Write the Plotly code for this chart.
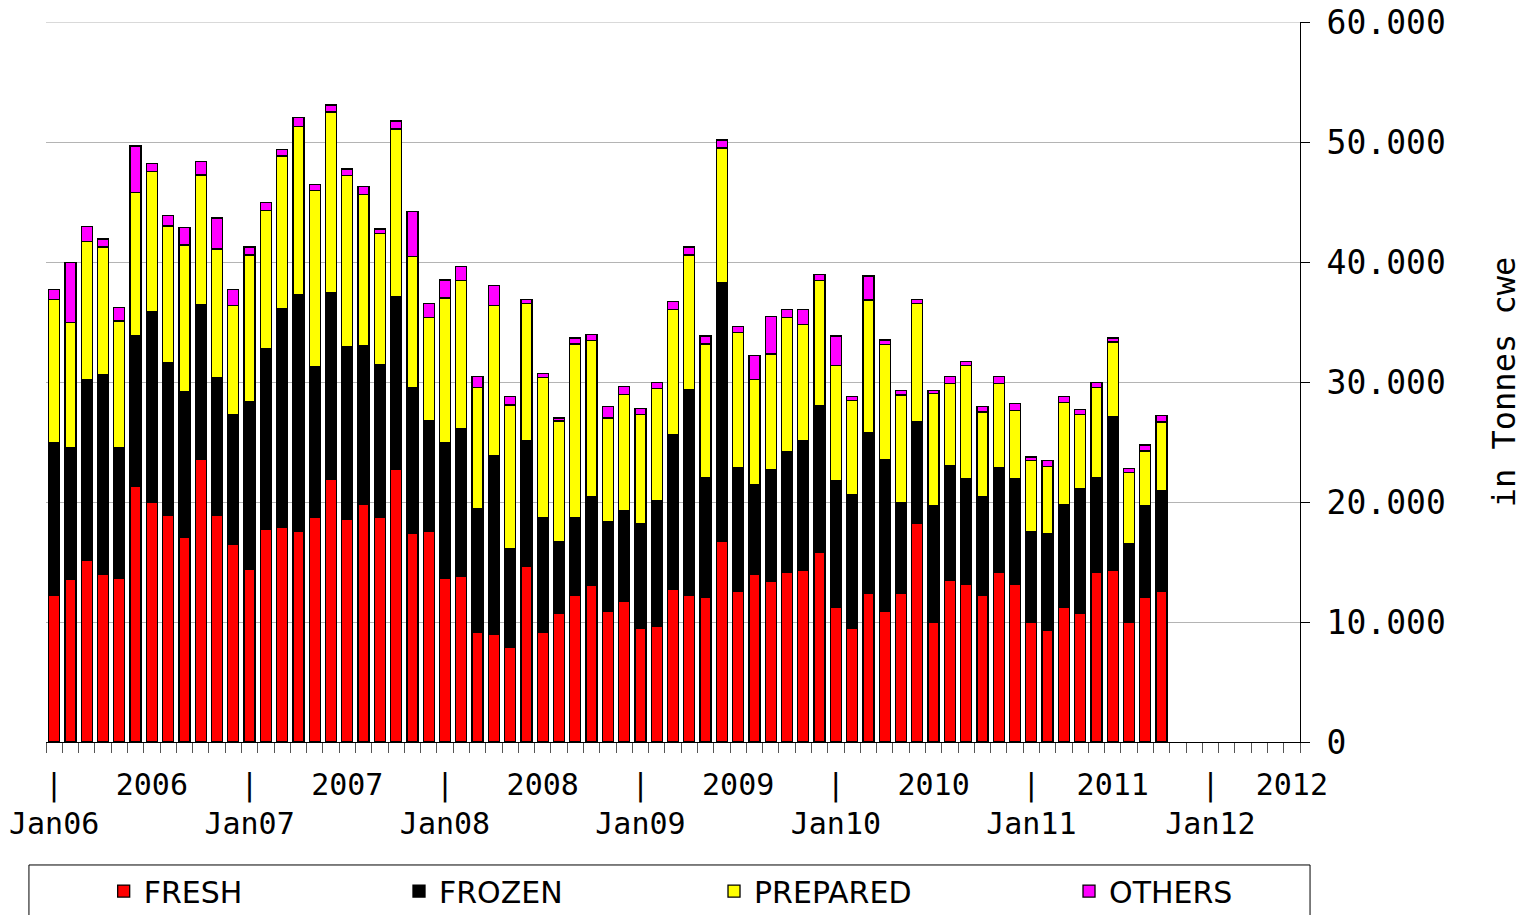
import plotly.graph_objects as go

# ---------------- data (tonnes cwe, monthly Jan06 .. Sep11) ----------------
month_names = ["Jan", "Feb", "Mar", "Apr", "May", "Jun",
               "Jul", "Aug", "Sep", "Oct", "Nov", "Dec"]
years = ["06", "07", "08", "09", "10", "11"]
months = [m + y for y in years for m in month_names][:69]

fresh = [12210, 13530, 15150, 13990, 13660, 21290, 20000, 18880, 17090, 23560, 18880, 16430,
         14360, 17720, 17850, 17550, 18680, 21910, 18550, 19830, 18680, 22740, 17390, 17520,
         13660, 13830, 9140, 8980, 7850, 14650, 9140, 10760, 12210, 13040, 10920, 11720,
         9470, 9640, 12710, 12210, 12050, 16730, 12540, 13990, 13360, 14160, 14320, 15770,
         11250, 9470, 12380, 10920, 12380, 18220, 9970, 13500, 13170, 12210, 14160, 13170,
         9970, 9300, 11250, 10760, 14160, 14320, 9970, 12050, 12540]
frozen = [12740, 10990, 15050, 16630, 10830, 12600, 15840, 12730, 12080, 12910, 11450, 10830,
          13990, 15050, 18290, 19700, 12640, 15550, 14390, 13240, 12800, 14390, 12110, 9240,
          11290, 12270, 10330, 14880, 8250, 10500, 9540, 5970, 6470, 7420, 7430, 7590,
          8710, 10490, 12930, 17130, 9990, 21520, 10330, 7430, 9340, 10000, 10830, 12280,
          10520, 11160, 13390, 12610, 7590, 8510, 9700, 9530, 8740, 8250, 8710, 8740,
          7550, 8090, 8550, 10330, 7880, 12760, 6590, 7620, 8420]
prepared = [11940, 10430, 11510, 10630, 10590, 11910, 11710, 11390, 12250, 10790, 10760, 9140,
            12240, 11550, 12700, 14050, 14620, 15040, 14280, 12530, 10890, 13950, 10930, 8610,
            12040, 12380, 10070, 12510, 11980, 11380, 11710, 10030, 14490, 13000, 8640, 9630,
            9140, 9310, 10400, 11250, 11130, 11250, 11250, 8810, 9640, 11210, 9630, 10430,
            9610, 7820, 11060, 9570, 8940, 9800, 9370, 6840, 9440, 7030, 7000, 5740,
            5910, 5540, 8510, 6230, 7530, 6250, 5910, 4590, 5700]
others = [830, 5010, 1220, 660, 1150, 3860, 660, 890, 1480, 1120, 2570, 1320,
          660, 660, 530, 750, 490, 580, 530, 700, 370, 670, 3760, 1190,
          1520, 1150, 890, 1650, 730, 360, 330, 230, 490, 500, 990, 690,
          500, 490, 660, 660, 660, 660, 530, 1980, 3100, 700, 1290, 500,
          2450, 330, 2010, 400, 360, 360, 230, 560, 360, 490, 560, 530,
          330, 530, 500, 370, 390, 330, 320, 490, 570]

series_names = ["FRESH", "FROZEN", "PREPARED", "OTHERS"]
series_colors = ["#FF0000", "#000000", "#FFFF00", "#FF00FF"]

# axis labels: slot index on the monthly axis and its text
n_slots = 77
label_slots = [0, 6, 12, 18, 24, 30, 36, 42, 48, 54, 60, 65, 71, 76]
label_texts = ["|<br>Jan06", "2006", "|<br>Jan07", "2007", "|<br>Jan08", "2008",
               "|<br>Jan09", "2009", "|<br>Jan10", "2010", "|<br>Jan11", "2011",
               "|<br>Jan12", "2012"]
y_ticks = [0, 10000, 20000, 30000, 40000, 50000, 60000]
y_max = 60000

x_idx = list(range(len(months)))
MONO = "DejaVu Sans Mono"
SANS = "DejaVu Sans"
GRID = "#b4b4b4"

fig = go.Figure()
legend_ids = ["legend", "legend2", "legend3", "legend4"]
for name, vals, col, lg in zip(series_names, [fresh, frozen, prepared, others],
                               series_colors, legend_ids):
    fig.add_trace(go.Bar(
        x=x_idx, y=vals, name=name, legend=lg,
        marker=dict(color=col, line=dict(color="#000000", width=1.3)),
        customdata=months,
        hovertemplate="%{customdata}<br>" + name + ": %{y:,}<extra></extra>",
    ))

legend_x = [0.046, 0.2815, 0.5327, 0.8158]
legend_common = dict(orientation="h", y=-0.207, yanchor="middle", xanchor="left",
                     bgcolor="rgba(0,0,0,0)", borderwidth=0,
                     font=dict(family=SANS, size=30, color="#000000"))

layout_legends = {lg: dict(x=lx, **legend_common) for lg, lx in zip(legend_ids, legend_x)}

fig.update_layout(
    width=1523, height=915,
    margin=dict(l=46, r=223, t=22, b=173, autoexpand=False),
    paper_bgcolor="white", plot_bgcolor="white",
    barmode="stack", bargap=0.32,
    separators=",.",
    showlegend=True,
    **layout_legends,
    xaxis=dict(
        range=[-0.5, n_slots - 0.5],
        tickmode="array", tickvals=label_slots, ticktext=label_texts,
        ticks="outside", ticklen=16, tickcolor="rgba(0,0,0,0)", tickangle=0,
        tickfont=dict(family=MONO, size=30, color="#000000"),
        showline=True, linecolor="#000000", linewidth=1,
        showgrid=False, zeroline=False,
        minor=dict(tickmode="linear", tick0=-0.5, dtick=1, ticks="outside",
                   ticklen=10, tickcolor="#555555", tickwidth=1, showgrid=False),
    ),
    yaxis=dict(
        side="right", range=[0, y_max],
        tickmode="array", tickvals=y_ticks, tickformat=",d",
        ticks="outside", ticklen=9, tickcolor="#000000",
        ticklabelstandoff=10, ticklabeloverflow="allow",
        tickfont=dict(family=MONO, size=33, color="#000000"),
        showline=True, linecolor="#000000", linewidth=1,
        showgrid=True, gridcolor=GRID, gridwidth=1, zeroline=False,
        title=dict(text="in Tonnes cwe", font=dict(family=MONO, size=32, color="#000000"),
                   standoff=48),
    ),
    shapes=[
        dict(type="rect", xref="paper", yref="paper",
             x0=-0.0136, x1=1.008, y0=-0.26, y1=-0.1708,
             line=dict(color="#000000", width=1), fillcolor="rgba(0,0,0,0)",
             layer="below"),
        # top gridline at the axis maximum (Plotly skips the grid line at the range end)
        dict(type="line", xref="paper", yref="y", x0=0, x1=1, y0=y_max, y1=y_max,
             line=dict(color=GRID, width=1), layer="below"),
    ],
)

# remove the browser's default 8 px body margin so the figure fills the window exactly
fig.write_html("out.html",
               config={"displayModeBar": False},
               post_script="document.body.style.margin='0px';document.body.style.overflow='hidden';")
